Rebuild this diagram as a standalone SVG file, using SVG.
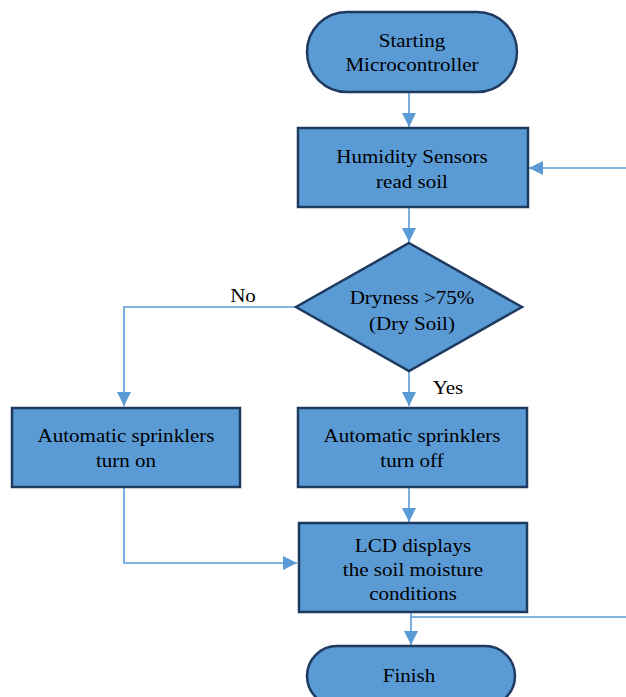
<svg xmlns="http://www.w3.org/2000/svg" width="626" height="697" viewBox="0 0 626 697">
<style>
.shape{fill:#5b9bd5;stroke:#1f3a5f;stroke-width:2.5}
.conn{fill:none;stroke:#5b9bd5;stroke-width:1.6}
.t{font-family:'Liberation Serif','Times New Roman','DejaVu Serif',serif;font-size:18px;fill:#000;text-anchor:middle}
</style>
<defs>
<marker id="ah" viewBox="0 0 10 10" refX="10" refY="5" markerWidth="14" markerHeight="14" markerUnits="userSpaceOnUse" orient="auto">
<path d="M0,0 L10,5 L0,10 z" fill="#5b9bd5"/>
</marker>
</defs>
<g id="connectors">
<path class="conn" d="M409,92 V127" marker-end="url(#ah)"/>
<path class="conn" d="M626,168 H529" marker-end="url(#ah)"/>
<path class="conn" d="M409,207 V242" marker-end="url(#ah)"/>
<path class="conn" d="M296,307 H124 V406" marker-end="url(#ah)"/>
<path class="conn" d="M409,371 V406" marker-end="url(#ah)"/>
<path class="conn" d="M409,487 V522" marker-end="url(#ah)"/>
<path class="conn" d="M124,487 V563 H297" marker-end="url(#ah)"/>
<path class="conn" d="M411,612 V645" marker-end="url(#ah)"/>
<path class="conn" d="M411,617 H626"/>
</g>
<g id="start">
<rect class="shape" x="307" y="12" width="210" height="80" rx="40"/>
<text class="t" font-family="Liberation Serif, serif" transform="translate(412 47) scale(1.17 1)">Starting</text>
<text class="t" font-family="Liberation Serif, serif" transform="translate(412 71) scale(1.17 1)">Microcontroller</text>
</g>
<g id="humidity">
<rect class="shape" x="298" y="128" width="230" height="79"/>
<text class="t" transform="translate(412 163) scale(1.17 1)">Humidity Sensors</text>
<text class="t" transform="translate(412 188) scale(1.17 1)">read soil</text>
</g>
<g id="decision">
<polygon class="shape" points="409,243 522,307 409,371 296,307"/>
<text class="t" transform="translate(412 304) scale(1.17 1)">Dryness &gt;75%</text>
<text class="t" transform="translate(412 330) scale(1.17 1)">(Dry Soil)</text>
</g>
<g id="labels">
<text class="t" transform="translate(243 302) scale(1.17 1)">No</text>
<text class="t" transform="translate(448 394) scale(1.17 1)">Yes</text>
</g>
<g id="on">
<rect class="shape" x="12" y="408" width="228" height="79"/>
<text class="t" transform="translate(126 442) scale(1.17 1)">Automatic sprinklers</text>
<text class="t" transform="translate(126 467) scale(1.17 1)">turn on</text>
</g>
<g id="off">
<rect class="shape" x="298" y="408" width="229" height="79"/>
<text class="t" transform="translate(412 442) scale(1.17 1)">Automatic sprinklers</text>
<text class="t" transform="translate(412 467) scale(1.17 1)">turn off</text>
</g>
<g id="lcd">
<rect class="shape" x="299" y="523" width="228" height="89"/>
<text class="t" transform="translate(413 552) scale(1.17 1)">LCD displays</text>
<text class="t" transform="translate(413 576) scale(1.17 1)">the soil moisture</text>
<text class="t" transform="translate(413 600) scale(1.17 1)">conditions</text>
</g>
<g id="finish">
<rect class="shape" x="307" y="646" width="208" height="60" rx="30"/>
<text class="t" transform="translate(409 682) scale(1.17 1)">Finish</text>
</g>
</svg>
